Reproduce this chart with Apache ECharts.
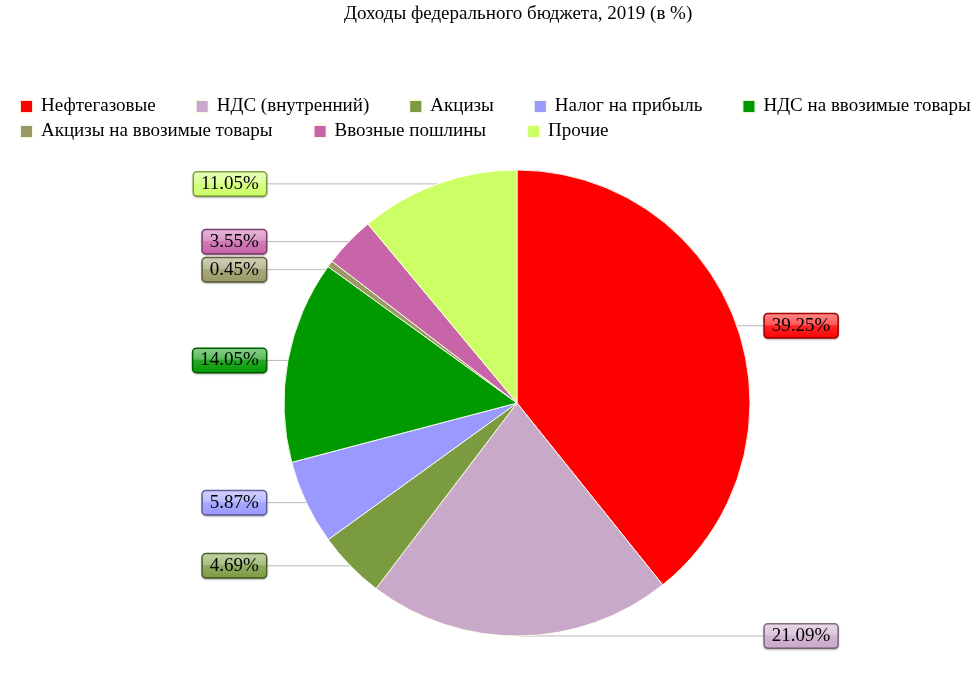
<!DOCTYPE html>
<html>
<head>
<meta charset="utf-8">
<script src="https://cdn.jsdelivr.net/npm/echarts@6/dist/echarts.min.js"></script>
<style>html,body{margin:0;padding:0;background:#fff}#c{width:978px;height:693px}</style>
</head>
<body>
<div id="c"></div>
<script>
var titleText = 'Доходы федерального бюджета, 2019 (в %)';
var categories = ['Нефтегазовые', 'НДС (внутренний)', 'Акцизы', 'Налог на прибыль', 'НДС на ввозимые товары', 'Акцизы на ввозимые товары', 'Ввозные пошлины', 'Прочие'];
var values = [39.25, 21.09, 4.69, 5.87, 14.05, 0.45, 3.55, 11.05];
var colors = ['#ff0000', '#c9a9c9', '#7b9b41', '#9999ff', '#009900', '#999966', '#c864a8', '#ccff66'];

function mix(hex, other, t) {
  var a = parseInt(hex.slice(1), 16), b = parseInt(other.slice(1), 16);
  var r = Math.round(((a >> 16) & 255) * (1 - t) + ((b >> 16) & 255) * t);
  var g = Math.round(((a >> 8) & 255) * (1 - t) + ((b >> 8) & 255) * t);
  var bl = Math.round((a & 255) * (1 - t) + (b & 255) * t);
  return 'rgb(' + r + ',' + g + ',' + bl + ')';
}

var chart = echarts.init(document.getElementById('c'));
var font = '"Liberation Serif", "Times New Roman", serif';

var data = categories.map(function (name, i) {
  var c = colors[i];
  return {
    name: name,
    value: values[i],
    itemStyle: { color: c },
    labelLine: { length2: i < 2 ? 28 : 22 },
    label: {
      backgroundColor: new echarts.graphic.LinearGradient(0, 0, 0, 1, [
        { offset: 0, color: mix(c, '#ffffff', 0.55) },
        { offset: 0.45, color: mix(c, '#ffffff', 0.35) },
        { offset: 0.5, color: mix(c, '#ffffff', 0.15) },
        { offset: 1, color: c }
      ]),
      borderColor: mix(c, '#000000', 0.35)
    }
  };
});

var legendText = { fontSize: 19, fontFamily: font, color: '#000', padding: [0, 0, 0, 3] };

chart.setOption({
  animation: false,
  title: {
    text: titleText,
    left: 339,
    top: 0,
    textStyle: { fontSize: 19, fontWeight: 'normal', fontFamily: font, color: '#000' }
  },
  legend: [
    {
      data: categories.slice(0, 5),
      left: 14, top: 92, width: 964, itemGap: 39, itemWidth: 13, itemHeight: 13, icon: 'rect',
      textStyle: legendText
    },
    {
      data: categories.slice(5),
      left: 14, top: 117, width: 964, itemGap: 40, itemWidth: 13, itemHeight: 13, icon: 'rect',
      textStyle: legendText
    }
  ],
  series: [{
    type: 'pie',
    center: [517, 403],
    radius: 233,
    startAngle: 90,
    clockwise: true,
    avoidLabelOverlap: true,
    itemStyle: { borderColor: 'rgba(255,255,240,0.9)', borderWidth: 1 },
    label: {
      show: true,
      formatter: '{c}%',
      fontSize: 19,
      fontFamily: font,
      color: '#000',
      padding: [3, 7, 1, 7],
      borderWidth: 1.5,
      borderRadius: 3,
      alignTo: 'labelLine',
      distanceToLabelLine: 0,
      shadowColor: 'rgba(0,0,0,0.25)',
      shadowBlur: 2,
      shadowOffsetY: 1
    },
    labelLine: {
      show: true,
      length: 0,
      length2: 25,
      lineStyle: { color: '#b8b8b8', width: 1 }
    },
    emphasis: { scale: false },
    data: data
  }]
});
</script>
</body>
</html>
